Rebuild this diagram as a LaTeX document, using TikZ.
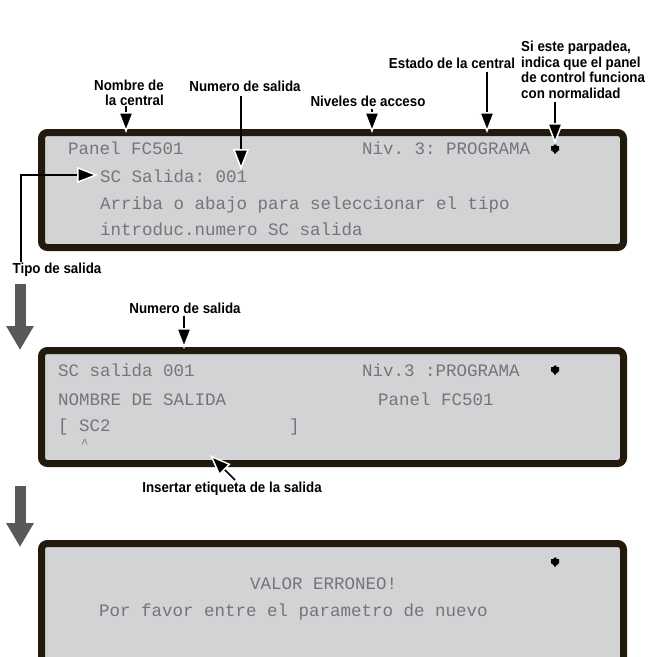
\documentclass[tikz,border=0pt]{standalone}
\usepackage{fontspec}
\setmainfont{Liberation Sans}
\newfontfamily\lcdfont{Liberation Mono}
\newfontfamily\lblfont[FakeStretch=0.92]{Liberation Sans}
\usetikzlibrary{arrows.meta}
\definecolor{lcdbg}{HTML}{D1D3D4}
\definecolor{lcdframe}{HTML}{221A0C}
\definecolor{lcdtext}{HTML}{747578}
\definecolor{flowgray}{HTML}{58595B}
\tikzset{
  panel/.style={draw=lcdframe, line width=7pt, fill=lcdbg, rounded corners=6pt},
  lcd/.style={font=\lcdfont\fontsize{17.5}{17.5}\selectfont, text=lcdtext, anchor=base west, inner sep=0pt},
  lbl/.style={font=\lblfont\bfseries\fontsize{14.5}{15.5}\selectfont, inner sep=0pt},
  callout/.style={line width=1.6pt, -{Triangle[length=21pt,width=16pt,color=white,fill=black,line width=1.5pt]}},
  flow/.style={line width=11pt, draw=flowgray, -{Triangle[length=24pt,width=26pt,fill=flowgray]}},
  blink/.style={fill=black}
}
\newcommand{\blinkdot}[2]{\fill[blink] (#1-1.5,#2-4.5) rectangle (#1+1.5,#2-3) (#1-4,#2-3) rectangle (#1+4,#2+1.5) (#1-2.5,#2+1.5) rectangle (#1+2.5,#2+3) (#1-1,#2+3) rectangle (#1+1,#2+4.5);}
\begin{document}
\frenchspacing
\begin{tikzpicture}[x=1pt,y=-1pt]
\useasboundingbox (0,0) rectangle (652,657);
\clip (0,0) rectangle (652,657);

% panels
\draw[panel] (41.5,132.5) rectangle (623.5,247.5);
\draw[panel] (41.5,350.5) rectangle (623.5,463.5);
\draw[panel] (41.5,543.5) rectangle (623.5,700);

% panel 1 text
\node[lcd] (p1name) at (68,154) {Panel FC501};
\node[lcd] (p1niv) at (362,154) {Niv. 3: PROGRAMA};
\node[lcd] (p1sc) at (100,182) {SC Salida: 001};
\node[lcd] (p1arr) at (100,209) {Arriba o abajo para seleccionar el tipo};
\node[lcd] (p1intro) at (100,235) {introduc.numero SC salida};
\blinkdot{555}{149}

% panel 2 text
\node[lcd] (p2sc) at (58,376) {SC salida 001};
\node[lcd] (p2niv) at (362,376) {Niv.3 :PROGRAMA};
\node[lcd] (p2nom) at (58,405) {NOMBRE DE SALIDA};
\node[lcd] (p2panel) at (378,405) {Panel FC501};
\node[lcd] (p2br) at (58,431) {[ SC2\phantom{00000000000000000}]};
\node[lcd, font=\lcdfont\fontsize{12}{12}\selectfont] (p2caret) at (81,447) {\^{}};
\blinkdot{555}{370}

% panel 3 text
\node[lcd] (p3val) at (250,589) {VALOR ERRONEO!};
\node[lcd] (p3por) at (99,616) {Por favor entre el parametro de nuevo};
\blinkdot{555}{562}

% labels
\node[lbl, align=right, anchor=east] (lnom) at (164,93) {Nombre de\\ la central};
\node[lbl] (lnum) at (245,86) {Numero de salida};
\node[lbl] (lniv) at (368,101) {Niveles de acceso};
\node[lbl] (lest) at (452,63) {Estado de la central};
\node[lbl, align=left, anchor=north west] (lsi) at (521,41) {Si este parpadea,\\ indica que el panel\\ de control funciona\\ con normalidad};
\node[lbl] (ltipo) at (57,270) {Tipo de salida};
\node[lbl] (lnum2) at (185,308) {Numero de salida};
\node[lbl] (lins) at (232,489) {Insertar etiqueta de la salida};

% callout tips
\coordinate (tnom) at (126,133);
\coordinate (tnum) at (241,170);
\coordinate (tniv) at (372,133);
\coordinate (test) at (487,133);
\coordinate (tsi) at (555,144);
\coordinate (ttipoA) at (21,175);
\coordinate (ttipo) at (98,175);
\coordinate (tnum2) at (184,349);
\coordinate (tins) at (210,455);

\draw[callout] (lnom.south -| tnom) -- (tnom);
\draw[callout] (241,96) -- (tnum);
\draw[callout] (lniv.south -| tniv) ++(0,2) -- (tniv);
\draw[callout] (lest.south -| test) ++(0,3) -- (test);
\draw[callout] (555,102) -- (tsi);
\draw[callout] (21,262) -- (ttipoA) -- (ttipo);
\draw[callout] (lnum2.south -| tnum2) ++(0,2) -- (tnum2);
\draw[callout] (235,480) -- (tins);

% flow arrows
\coordinate (f1a) at (20,284);
\coordinate (f1b) at (20,350);
\coordinate (f2a) at (20,486);
\coordinate (f2b) at (20,547);
\draw[flow] (f1a) -- (f1b);
\draw[flow] (f2a) -- (f2b);
\end{tikzpicture}
\end{document}
